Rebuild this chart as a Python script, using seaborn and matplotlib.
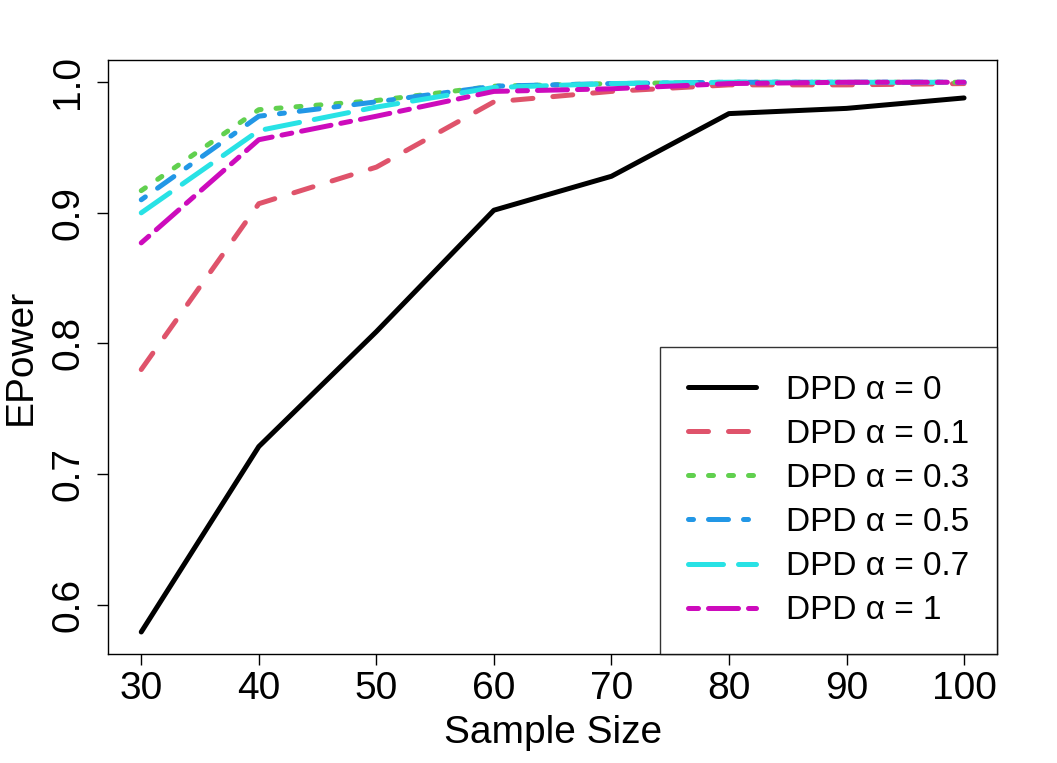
import pandas as pd
import matplotlib
matplotlib.use("Agg")
import matplotlib.pyplot as plt
import seaborn as sns

# sample sizes and empirical power for each DPD tuning parameter
sample_size = [30, 40, 50, 60, 70, 80, 90, 100]
power_a0 = [0.579, 0.721, 0.809, 0.902, 0.928, 0.976, 0.980, 0.988]
power_a01 = [0.780, 0.907, 0.935, 0.985, 0.993, 0.998, 0.998, 0.999]
power_a03 = [0.917, 0.979, 0.986, 0.997, 0.999, 1.000, 1.000, 1.000]
power_a05 = [0.910, 0.974, 0.985, 0.997, 0.999, 1.000, 1.000, 1.000]
power_a07 = [0.900, 0.963, 0.981, 0.996, 0.999, 1.000, 1.000, 1.000]
power_a1 = [0.877, 0.956, 0.974, 0.993, 0.995, 0.999, 1.000, 1.000]

labels = ["DPD α = 0", "DPD α = 0.1", "DPD α = 0.3",
          "DPD α = 0.5", "DPD α = 0.7", "DPD α = 1"]
series = [power_a0, power_a01, power_a03, power_a05, power_a07, power_a1]

# R default palette + lty 1..6
colors = ["#000000", "#DF536B", "#61D04F", "#2297E6", "#28E2E5", "#CD0BBC"]
dashes = ["", (4, 4), (1, 3), (1, 3, 4, 3), (7, 3), (2, 2, 6, 2)]

rows = []
for lab, vals in zip(labels, series):
    for n, v in zip(sample_size, vals):
        rows.append({"n": n, "power": v, "method": lab})
df = pd.DataFrame(rows)

sns.set_style("ticks")
plt.rcParams["font.family"] = ["Liberation Sans", "DejaVu Sans"]
plt.rcParams["lines.dash_capstyle"] = "round"
plt.rcParams["lines.solid_capstyle"] = "round"
for key in ["text.color", "axes.labelcolor", "xtick.color", "ytick.color",
            "xtick.labelcolor", "ytick.labelcolor"]:
    plt.rcParams[key] = "black"

fig = plt.figure(figsize=(10.57, 7.63), dpi=100)
ax = fig.add_axes([0.1025, 0.1429, 0.8407, 0.7781])

sns.lineplot(data=df, x="n", y="power", hue="method", style="method",
             hue_order=labels, style_order=labels,
             palette=dict(zip(labels, colors)), dashes=dict(zip(labels, dashes)),
             linewidth=3.6, ax=ax, legend=False)

for line in ax.get_lines():
    line.set_dash_capstyle("round")
    line.set_solid_capstyle("round")

# R-style 4% axis padding
xlo, xhi = min(sample_size), max(sample_size)
ylo = min(min(s) for s in series)
yhi = max(max(s) for s in series)
ax.set_xlim(xlo - 0.04 * (xhi - xlo), xhi + 0.04 * (xhi - xlo))
ax.set_ylim(ylo - 0.04 * (yhi - ylo), yhi + 0.04 * (yhi - ylo))

ax.set_xticks(sample_size)
ax.set_yticks([0.6, 0.7, 0.8, 0.9, 1.0])
ax.set_yticklabels(["0.6", "0.7", "0.8", "0.9", "1.0"], rotation=90, va="center")
ax.tick_params(axis="both", labelsize=28, length=8, width=1, color="black",
               labelcolor="black", direction="out")
ax.tick_params(axis="x", pad=4)
ax.tick_params(axis="y", pad=8)

ax.set_xlabel("Sample Size", fontsize=28, labelpad=6, color="black")
ax.set_ylabel("EPower", fontsize=28, labelpad=8, color="black")

for sp in ax.spines.values():
    sp.set_visible(True)
    sp.set_color("black")
    sp.set_linewidth(1)

handles = []
for c, d in zip(colors, dashes):
    if d:
        h = plt.Line2D([], [], color=c, linewidth=3.6, dashes=d,
                       dash_capstyle="round")
    else:
        h = plt.Line2D([], [], color=c, linewidth=3.6, solid_capstyle="round")
    handles.append(h)

leg = ax.legend(handles, labels, loc="lower right", fontsize=24, frameon=True,
                fancybox=False, borderaxespad=0, handlelength=2.05,
                handletextpad=0.9, labelspacing=0.394, borderpad=0.83)
leg.get_frame().set_edgecolor("black")
leg.get_frame().set_linewidth(1)
for t in leg.get_texts():
    t.set_color("black")

fig.savefig("out.png", dpi=100, facecolor="white")
